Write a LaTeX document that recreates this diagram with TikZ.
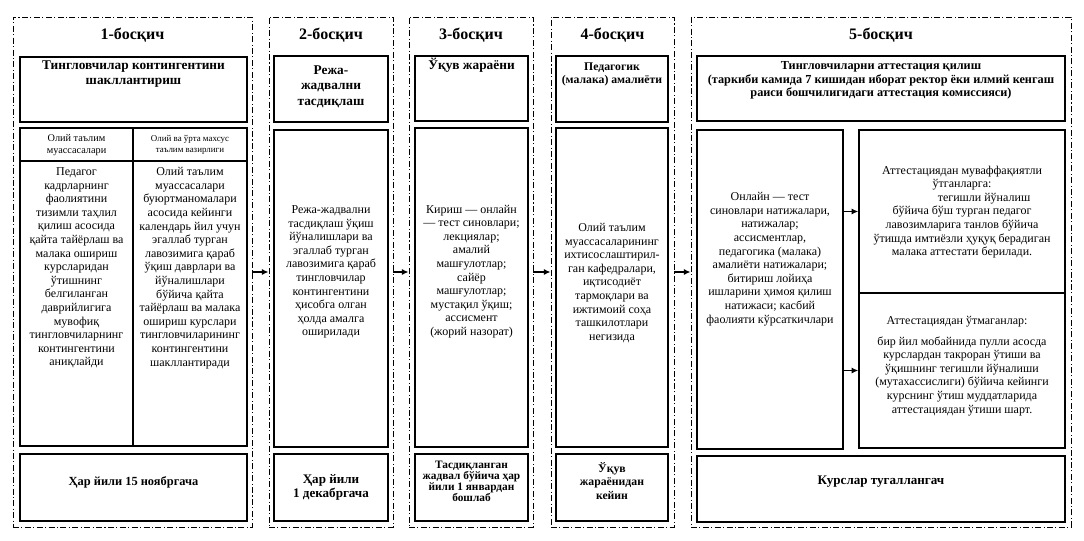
\documentclass[tikz,border=0pt]{standalone}
\usepackage{fontspec}
\setmainfont{Liberation Serif}
\usetikzlibrary{fit,arrows.meta}
\begin{document}
\begin{tikzpicture}[x=0.75pt,y=-0.75pt,
  box/.style={draw, line width=1.1pt, inner sep=0pt},
  stagebox/.style={draw, line width=0.7pt, dash pattern=on 4.5pt off 1.8pt on 0.8pt off 1.8pt, inner sep=0pt},
  arr/.style={-{Latex[length=5pt,width=4.6pt]}, line width=1.1pt},
  txt/.style={align=center, inner sep=0pt, font=\fontsize{9}{10.2}\selectfont},
  ttl/.style={align=center, inner sep=0pt, font=\bfseries\fontsize{12}{14}\selectfont},
  hdr/.style={align=center, inner sep=0pt, font=\bfseries\fontsize{10}{11.7}\selectfont},
  hdrs/.style={align=center, inner sep=0pt, font=\bfseries\fontsize{8.8}{10}\selectfont},
  dt/.style={align=center, inner sep=0pt, font=\bfseries\fontsize{9.3}{10.5}\selectfont},
  dts/.style={align=center, inner sep=0pt, font=\bfseries\fontsize{8.5}{8.4}\selectfont}]
\useasboundingbox (0,0) rectangle (1084,540);
\fill[white] (0,0) rectangle (1084,540);

% stage frames
\node[stagebox, fit={(13,17) (252,527)}] (s1) {};
\node[stagebox, fit={(269,17) (393,527)}] (s2) {};
\node[stagebox, fit={(409,17) (533,527)}] (s3) {};
\node[stagebox, fit={(551,17) (674,527)}] (s4) {};
\node[stagebox, fit={(691,17) (1071,527)}] (s5) {};

% titles
\node[ttl] (t1) at (132.5,35) {1-босқич};
\node[ttl] (t2) at (331,35) {2-босқич};
\node[ttl] (t3) at (471,35) {3-босқич};
\node[ttl] (t4) at (612.5,35) {4-босқич};
\node[ttl] (t5) at (881,35) {5-босқич};

% ---------- stage 1 ----------
\node[box, fit={(20,57) (247,122)}] (h1) {};
\node[hdr] (h1t) at (133.5,74) {Тингловчилар контингентини\\шакллантириш};
\node[box, fit={(20,128) (133,161)}] (c1a) {};
\node[box, fit={(133,128) (247,161)}] (c1b) {};
\node[box, fit={(20,161) (133,446)}] (c1c) {};
\node[box, fit={(133,161) (247,446)}] (c1d) {};
\node[align=center, inner sep=0pt, font=\fontsize{7.7}{9}\selectfont] (c1at) at (76.5,145) {Олий таълим\\муассасалари};
\node[align=center, inner sep=0pt, font=\fontsize{6.7}{8.4}\selectfont] (c1bt) at (190,144.5) {Олий ва ўрта махсус\\таълим вазирлиги};
\node[txt] (c1ct) at (76.5,268) {Педагог\\кадрларнинг\\фаолиятини\\тизимли таҳлил\\қилиш асосида\\қайта тайёрлаш ва\\малака ошириш\\курсларидан\\ўтишнинг\\белгиланган\\даврийлигига\\мувофиқ\\тингловчиларнинг\\контингентини\\аниқлайди};
\node[txt] (c1dt) at (190,268) {Олий таълим\\муассасалари\\буюртманомалари\\асосида кейинги\\календарь йил учун\\эгаллаб турган\\лавозимига қараб\\ўқиш даврлари ва\\йўналишлари\\бўйича қайта\\тайёрлаш ва малака\\ошириш курслари\\тингловчиларининг\\контингентини\\шакллантиради};
\node[box, fit={(20,454) (247,521)}] (d1) {};
\node[dt] (d1t) at (133.5,482) {Ҳар йили 15 ноябргача};

% ---------- stage 2 ----------
\node[box, fit={(274,56) (388,122)}] (h2) {};
\node[hdr, font=\bfseries\fontsize{10}{11.6}\selectfont] (h2t) at (331,86.5) {Режа-\\жадвални\\тасдиқлаш};
\node[box, fit={(274,130) (388,447)}] (b2) {};
\node[txt] (b2t) at (331,272) {Режа-жадвални\\тасдиқлаш ўқиш\\йўналишлари ва\\эгаллаб турган\\лавозимига қараб\\тингловчилар\\контингентини\\ҳисобга олган\\ҳолда амалга\\оширилади};
\node[box, fit={(274,454) (388,521)}] (d2) {};
\node[dt, font=\bfseries\fontsize{9.8}{10.5}\selectfont] (d2t) at (331,487) {Ҳар йили\\1 декабргача};

% ---------- stage 3 ----------
\node[box, fit={(415,56) (528,121)}] (h3) {};
\node[hdr] (h3t) at (471.5,65) {Ўқув жараёни};
\node[box, fit={(415,128) (528,447)}] (b3) {};
\node[txt] (b3t) at (471.5,271.5) {Кириш — онлайн\\— тест синовлари;\\лекциялар;\\амалий\\машғулотлар;\\сайёр\\машғулотлар;\\мустақил ўқиш;\\ассисмент\\(жорий назорат)};
\node[box, fit={(415,454) (528,521)}] (d3) {};
\node[dts] (d3t) at (471.5,481.5) {Тасдиқланган\\жадвал бўйича ҳар\\йили 1 январдан\\бошлаб};

% ---------- stage 4 ----------
\node[box, fit={(556,56) (668,122)}] (h4) {};
\node[hdrs] (h4t) at (612,74.5) {Педагогик\\(малака) амалиёти};
\node[box, fit={(556,128) (668,447)}] (b4) {};
\node[txt] (b4t) at (612,283) {Олий таълим\\муассасаларининг\\ихтисослаштирил-\\ган кафедралари,\\иқтисодиёт\\тармоқлари ва\\ижтимоий соҳа\\ташкилотлари\\негизида};
\node[box, fit={(556,454) (668,521)}] (d4) {};
\node[hdrs] (d4t) at (612,481) {Ўқув\\жараёнидан\\кейин};

% ---------- stage 5 ----------
\node[box, fit={(697,56) (1065,121)}] (h5) {};
\node[align=center, inner sep=0pt, font=\bfseries\fontsize{9.2}{10.2}\selectfont] (h5t) at (881,80.5) {Тингловчиларни аттестация қилиш\\(таркиби камида 7 кишидан иборат ректор ёки илмий кенгаш\\раиси бошчилигидаги аттестация комиссияси)};
\node[box, fit={(697,130) (843,449)}] (L5) {};
\node[txt] (L5t) at (770,259) {Онлайн — тест\\синовлари натижалари,\\натижалар;\\ассисментлар,\\педагогика (малака)\\амалиёти натижалари;\\битириш лойиҳа\\ишларини ҳимоя қилиш\\натижаси; касбий\\фаолияти кўрсаткичлари};
\node[box, fit={(859,130) (1065,293)}] (R5a) {};
\node[txt] (R5at) at (962,212) {Аттестациядан муваффақиятли\\ўтганларга:\hspace*{73pt}\\\hspace*{33pt}тегишли йўналиш\\бўйича бўш турган педагог\\лавозимларига танлов бўйича\\ўтишда имтиёзли ҳуқуқ берадиган\\малака аттестати берилади.};
\node[box, fit={(859,293) (1065,448)}] (R5b) {};
\node[txt] (R5bh) at (957,322) {Аттестациядан ўтмаганлар:};
\node[txt] (R5bt) at (962,376) {бир йил мобайнида пулли асосда\\курслардан такроран ўтиши ва\\ўқишнинг тегишли йўналиши\\(мутахассислиги) бўйича кейинги\\курснинг ўтиш муддатларида\\аттестациядан ўтиши шарт.};
\node[box, fit={(697,456) (1065,522)}] (d5) {};
\node[dt, font=\bfseries\fontsize{9.8}{11}\selectfont] (d5t) at (881,482) {Курслар тугаллангач};

% connectors
\draw[arr] (s1.east) -- (s2.west);
\draw[arr] (s2.east) -- (s3.west);
\draw[arr] (s3.east) -- (s4.west);
\draw[arr] (s4.east) -- (s5.west);
\draw[arr] (L5.east |- R5a.center) -- (R5a.west);
\draw[arr] (L5.east |- R5b.center) -- (R5b.west);
\end{tikzpicture}
\end{document}
